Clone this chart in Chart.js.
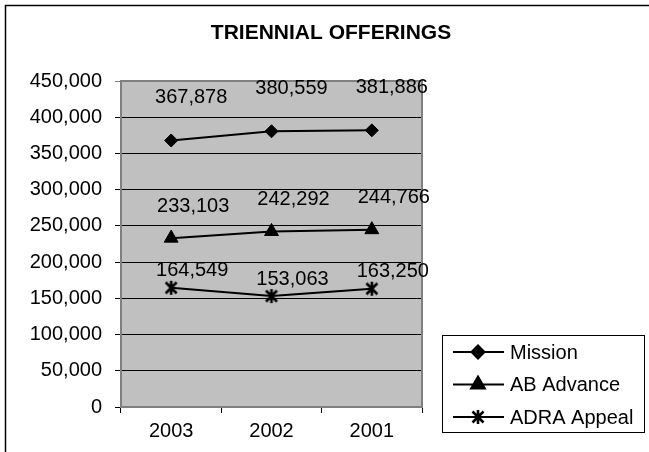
<!DOCTYPE html>
<html>
<head>
<meta charset="utf-8">
<script src="https://cdn.jsdelivr.net/npm/chart.js@4/dist/chart.umd.min.js"></script>
<style>
  body { margin: 0; background: #fff; }
  canvas { display: block; }
</style>
</head>
<body>
<canvas id="offerings" width="649" height="452"></canvas>
<script>
// Data

const years = ["2003", "2002", "2001"];
const mission = [367878, 380559, 381886];
const abAdvance = [233103, 242292, 244766];
const adraAppeal = [164549, 153063, 163250];
const yTicks = [0, 50000, 100000, 150000, 200000, 250000, 300000, 350000, 400000, 450000];

const FONT = "'Liberation Sans', Arial, sans-serif";

// asterisk marker (X plus a vertical bar), like the Excel one
const star = document.createElement("canvas");
star.width = 16;
star.height = 16;
(function () {
  const c = star.getContext("2d");
  c.strokeStyle = "#000";
  c.lineWidth = 2.6;
  c.beginPath();
  c.moveTo(2.5, 2.5); c.lineTo(13.5, 13.5);
  c.moveTo(13.5, 2.5); c.lineTo(2.5, 13.5);
  c.moveTo(8, 1); c.lineTo(8, 15);
  c.stroke();
})();

// label offsets for each series (dx, dy from the point)
const labelOffsets = [[20, -43], [22, -32], [21, -17]];

const plotBack = {
  id: "plotBack",
  beforeDraw(chart) {
    const { ctx, chartArea: a } = chart;
    ctx.save();
    ctx.fillStyle = "#c0c0c0";
    ctx.fillRect(a.left, a.top, a.right - a.left, a.bottom - a.top);
    // outer chart border (only top and left are inside the picture)
    ctx.strokeStyle = "#000";
    ctx.lineWidth = 1.5;
    ctx.strokeRect(5.5, 5.5, 800, 600);
    // title
    ctx.fillStyle = "#000";
    ctx.font = "bold 21px " + FONT;
    ctx.textAlign = "center";
    ctx.textBaseline = "middle";
    ctx.fillText("TRIENNIAL OFFERINGS", 331, 33);
    ctx.restore();
  },
  beforeDatasetsDraw(chart) {
    const { ctx, chartArea: a } = chart;
    ctx.save();
    ctx.strokeStyle = "#808080";
    ctx.lineWidth = 2;
    ctx.strokeRect(a.left, a.top, a.right - a.left, a.bottom - a.top);
    ctx.restore();
  },
};

const pointLabels = {
  id: "pointLabels",
  afterDatasetsDraw(chart) {
    const ctx = chart.ctx;
    ctx.save();
    ctx.fillStyle = "#000";
    ctx.font = "20px " + FONT;
    ctx.textAlign = "center";
    ctx.textBaseline = "middle";
    chart.data.datasets.forEach((ds, i) => {
      const meta = chart.getDatasetMeta(i);
      const off = labelOffsets[i];
      meta.data.forEach((pt, j) => {
        ctx.fillText(ds.data[j].toLocaleString("en-US"), pt.x + off[0], pt.y + off[1]);
      });
    });
    ctx.restore();
  },
};

const boxLegend = {
  id: "boxLegend",
  afterDraw(chart) {
    const ctx = chart.ctx;
    ctx.save();
    ctx.strokeStyle = "#000";
    ctx.lineWidth = 1;
    ctx.strokeRect(442.5, 335.5, 202, 97);
    ctx.font = "20px " + FONT;
    ctx.textBaseline = "middle";
    ctx.fillStyle = "#000";
    chart.data.datasets.forEach((ds, i) => {
      const y = 352 + i * 32.5;
      ctx.strokeStyle = "#000";
      ctx.lineWidth = 2;
      ctx.beginPath();
      ctx.moveTo(453, y);
      ctx.lineTo(504, y);
      ctx.stroke();
      Chart.helpers.drawPoint(ctx, {
        pointStyle: ds.pointStyle,
        radius: ds.pointRadius,
        borderWidth: 1,
        rotation: 0,
      }, 478, y);
      ctx.fillStyle = "#000";
      ctx.fillText(ds.label, 510, y + 1);
    });
    ctx.restore();
  },
};

new Chart(document.getElementById("offerings"), {
  type: "line",
  data: {
    labels: years,
    datasets: [
      {
        label: "Mission",
        data: mission,
        borderColor: "#000",
        backgroundColor: "#000",
        borderWidth: 2,
        pointStyle: "rectRot",
        pointRadius: 6.5,
        pointBorderWidth: 1,
      },
      {
        label: "AB Advance",
        data: abAdvance,
        borderColor: "#000",
        backgroundColor: "#000",
        borderWidth: 2,
        pointStyle: "triangle",
        pointRadius: 8,
        pointBorderWidth: 1,
      },
      {
        label: "ADRA Appeal",
        data: adraAppeal,
        borderColor: "#000",
        backgroundColor: "#000",
        borderWidth: 2,
        pointStyle: star,
        pointRadius: 7,
      },
    ],
  },
  options: {
    responsive: false,
    animation: false,
    layout: { padding: { top: 81, right: 227, left: 0, bottom: 0 } },
    plugins: {
      legend: { display: false },
      title: { display: false },
      tooltip: { enabled: false },
    },
    scales: {
      x: {
        offset: true,
        afterFit(scale) { scale.height = 45; },
        grid: {
          offset: true,
          drawOnChartArea: false,
          drawTicks: true,
          tickLength: 6,
          color: "#000",
        },
        border: { color: "#000", width: 1 },
        ticks: { color: "#000", font: { family: FONT, size: 20 }, padding: 6 },
      },
      y: {
        min: 0,
        max: 450000,
        afterFit(scale) { scale.width = 121; },
        afterBuildTicks(scale) { scale.ticks = yTicks.map((v) => ({ value: v })); },
        grid: {
          color: (c) => (c.tick && c.tick.value === 450000 ? "#808080" : "#000"),
          lineWidth: 1,
          tickLength: 6,
        },
        border: { color: "#000", width: 1 },
        ticks: {
          color: "#000",
          font: { family: FONT, size: 20 },
          padding: 13,
          callback: (v) => v.toLocaleString("en-US"),
        },
      },
    },
  },
  plugins: [plotBack, pointLabels, boxLegend],
});
</script>
</body>
</html>
